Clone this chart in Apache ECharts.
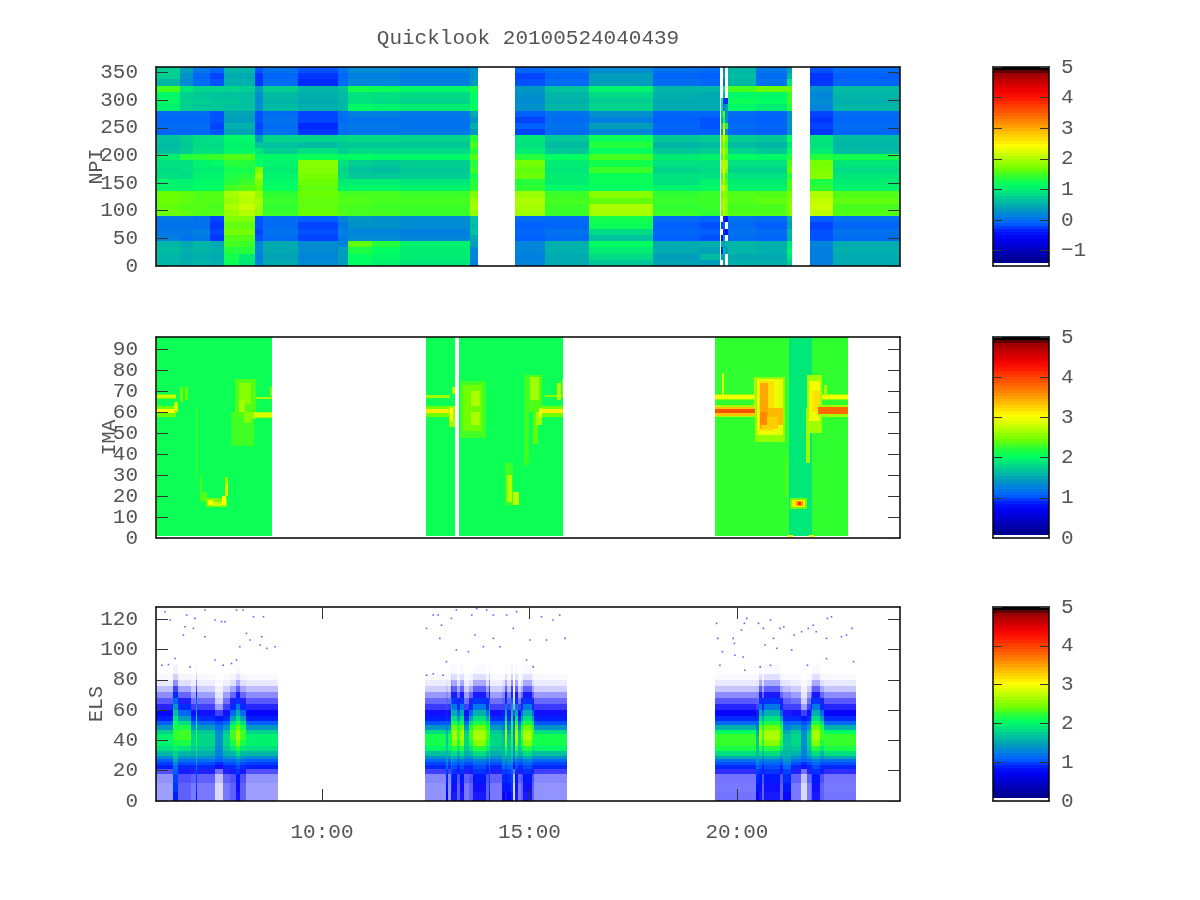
<!DOCTYPE html>
<html><head><meta charset="utf-8">
<style>html,body{margin:0;padding:0;background:#fff}#c{width:1200px;height:900px}</style>
<script src="https://cdn.jsdelivr.net/npm/echarts@6/dist/echarts.min.js"></script>
</head><body><div id="c"></div>
<script>
const title = 'Quicklook 20100524040439';
const timeTicks = [10, 15, 20];
const npiTicks = [0,50,100,150,200,250,300,350];
const imaTicks = [0,10,20,30,40,50,60,70,80,90];
const elsTicks = [0,20,40,60,80,100,120];
const barTicksNpi = [-1,0,1,2,3,4,5];
const barTicksOther = [0,1,2,3,4,5];
const palette = ['#000088','#0000a8','#0000cc','#0000ee','#0018ff','#0060ff','#0080e0','#00a0b8','#00c0a0','#00e080','#00ff60','#30ff30','#70ff00','#a0ff00','#d0ff00','#ffff00','#ffd800','#ffb000','#ff8800','#ff6000','#ff4000','#ff1800','#f00000','#c80000','#a00000','#000000'];

// NPI: each column lists 32 azimuth rows (11.25 wide), bottom row first; null = no data
const npiRowHeight = 11.25;
const npiSpans = [[6.0,6.58],[6.58,6.9],[6.9,7.3],[7.3,7.64],[7.64,8.0],[8.0,8.38],[8.38,8.58],[8.58,9.42],[9.42,10.39],[10.39,10.63],[10.63,11.2],[11.2,11.88],[11.88,13.57],[13.57,13.75],
 [14.64,15.37],[15.37,16.43],[16.43,17.98],[17.98,19.1],[19.1,19.6],[19.62,19.66],[19.66,19.72],[19.72,19.79],[19.79,20.47],[20.47,21.2],[21.2,21.32],[21.76,22.31],[22.31,23.93]];
const npiC0  = [.5,.5,.55,.5, .05,0,-.05,0, 1.6,1.55,1.6,1.6, 1,1, .85,.8,.85,.95, .6,.55,.6, -.15,-.1,-.15,-.1, 1,1.05,1.05,1.45, .5,.7,.7];
const npiC1  = [.45,.4,.45,.4, -.05,0,-.05,0, 1.55,1.5,1.55,1.55, 1,1, .8,.85,.85,1.3, .7,.65,.7, -.15,-.1,-.15,-.1, .7,.75,.7,.9, .15,.2,.3];
const npiC2  = [.5,.45,.5,.5, 0,.05,-.05,-.05, 1.5,1.5,1.5,1.5, 1.1,1.05, 1,.95,1,1.35, .85,.8,.8, -.15,-.1,-.15,-.1, .65,.7,.65,.75, -.1,-.15,0];
const npiC3  = [.45,.4,.45,.4, -.35,-.3,-.35,-.3, 1.5,1.45,1.5,1.5, 1.1,1.05, 1,.95,1.05,1.4, .85,.8,.85, -.25,-.3,-.25,-.25, .65,.65,.6,.75, -.25,-.3,-.15];
const npiC4  = [1.15,1.2,1.3,1.45, 1.5,1.65,1.55,1.7, 1.85,1.95,1.85,1.9, 1.45,1.3, 1.25,1.2,1.3,1.5, 1.05,1,1.05, .35,.45,.3,.35, .6,.65,.6,.75, .45,.4,.5];
const npiC5  = [.9,.95,1.3,1.4, 1.5,1.65,1.55,1.7, 2,2.1,2,2.05, 1.5,1.4, 1.3,1.2,1.3,1.5, 1.05,1,1.05, .35,.45,.3,.35, .6,.6,.6,.7, .45,.4,.5];
const npiC6  = [.1,.05,.1,.1, -.25,-.3,-.25,-.25, 1.8,1.85,1.9,1.8, 1.6,1.7, 1.9,1.7,1.1,1.05, .9,.6,.3, -.25,-.3,-.25,-.25, .2,.15,.2,.3, -.35,-.35,-.25];
const npiC7  = [.4,.35,.4,.4, -.1,-.05,-.1,-.1, 1.4,1.35,1.4,1.35, 1.1,1.05, 1,.95,1,1.05, .7,.6,.75, -.05,-.1,-.05,-.1, .55,.5,.55,.7, -.1,-.15,-.05];
const npiC8  = [.15,.1,.15,.15, -.3,-.25,-.3,-.2, 1.6,1.55,1.55,1.6, 1.55,1.6, 1.65,1.7,1.75,1.15, .85,.55,.75, -.35,-.4,-.3,-.3, .45,.4,.45,.5, -.4,-.35,-.25];
const npiC9  = [.3,.3,.3,.1, 0,.05,0,.1, 1.5,1.45,1.5,1.45, 1,.95, .8,.75,.85,1.05, .7,.65,.75, -.1,-.05,-.1,-.05, .5,.5,.55,.6, -.1,-.15,-.05];
const npiC10 = [1.1,1.1,1.25,1.55, .15,.1,.2,.25, 1.45,1.45,1.5,1.45, 1.05,.95, .65,.6,.7,1.1, .8,.65,.8, -.05,0,-.05,.05, 1.05,.85,.85,1.2, .1,.05,.15];
const npiC11 = [1,1.05,1.1,1.3, .15,.1,.2,.2, 1.45,1.4,1.45,1.45, 1.05,.95, .65,.55,.65,1.05, .8,.65,.8, -.05,0,-.05,.05, 1,.8,.85,1.15, .1,.05,.15];
const npiC12 = [.9,.95,.95,1, .1,.05,.15,.15, 1.4,1.4,1.45,1.4, 1,.9, .7,.65,.7,1.05, .8,.65,.75, 0,-.05,-.05,0, .95,.75,.8,1.05, .05,0,.1];
const npiC13 = [.05,.1,.1,.3, .4,.6,.55,.6, 1.8,1.9,1.85,1.7, 1.35,1.3, 1.2,1.4,1.3,1.5, 1.3,1.45,1.3, .25,.45,.2,.4, 1.1,1.05,1.1,1.2, .25,.2,.2];
const npiC14 = [.1,.05,.1,.1, -.2,-.15,-.2,-.1, 1.85,1.9,1.95,1.85, 1.35,1.3, 1.6,1.55,1.65,1.3, .95,.85,.9, -.3,-.2,-.3,-.2, .2,.15,.2,.25, -.25,-.3,-.15];
const npiC15 = [.4,.4,.45,.45, -.1,-.05,-.15,-.1, 1.4,1.4,1.45,1.4, 1.05,.95, .95,.9,.95,1.1, .65,.55,.65, -.1,-.05,-.1,-.05, .5,.45,.5,.6, -.1,-.15,-.05];
const npiC16 = [.65,.8,.95,1.1, .6,.8,1.15,1.2, 1.9,1.95,1.55,1.75, 1.1,1.15, 1.15,1.4,1.2,1.45, 1.1,1.3,1.15, .1,.3,.05,.2, .75,.7,.8,1.0, .3,.3,.15];
const npiC17 = [.35,.3,.4,.4, -.2,-.15,-.2,-.1, 1.4,1.35,1.4,1.35, 1,.85, .85,.75,.85,.95, .65,.5,.65, -.2,-.15,-.2,-.15, .4,.4,.45,.5, -.1,-.15,-.05];
const npiC18 = [.3,.55,.35,.45, -.25,-.2,-.25,-.15, 1.35,1.4,1.4,1.4, 1.05,1, .85,.8,.85,1, .7,.55,.7, -.2,-.25,-.25,-.15, .4,.4,.4,.5, -.15,-.2,-.1];
const npiC19 = [null,.3,-.4,.4, -.5,null,-.3,null, 1.6,1.8,1.7,1.6, 1.9,1.6, 1.4,1.7,1.9,1.4, 1.7,1.5,1.6, .3,.9,.4,.7, .9,1,null,null, null,null,null];
const npiC20 = [.3,.4,.5,.3, .2,-.4,-.2,-.4, 2.0,1.9,1.95,1.8, 2.1,1.9, 2.2,2.3,1.9,2, 2,1.9,2.1, 2.5,2.8,1.2,1.5, -.1,-.4,.5,.9, -.1,.3,.2];
const npiC21 = [null,null,.3,.5, null,-.6,null,-.6, 1.7,1.7,1.75,1.7, 1.7,1.5, 1.3,1.7,1.9,1.5, 1.6,1.4,1.6, .2,1.2,.2,.2, .3,-.4,null,null, null,null,null];
const npiC22 = [.45,.4,.5,.5, -.1,-.05,-.1,-.05, 1.5,1.45,1.5,1.5, 1,.95, .85,.75,.85,1.1, .75,.55,.7, -.15,-.1,-.15,-.1, 1.05,1.15,1.05,1.45, .5,.55,.5];
const npiC23 = [.45,.4,.45,.45, -.15,-.1,-.2,-.1, 1.5,1.45,1.55,1.5, 1,.95, .85,.75,.85,1.05, .65,.5,.65, -.2,-.15,-.2,-.15, .95,1.1,1.05,1.6, -.05,-.1,0];
const npiC24 = [.7,.9,1.0,.9, .4,.5,.3,.4, 1.7,1.75,1.7,1.65, 1.5,1.5, 1.3,1.6,1.5,1.3, 1.1,.9,1.1, .2,.2,.2,.2, 1.3,1.4,1.4,1.6, .9,.5,.3];
const npiC25 = [.05,.05,.05,.1, -.25,-.25,-.3,-.2, 2.05,2.1,2.05,1.95, 1.35,1.25, 1.75,1.7,1.65,1.3, .95,.85,.9, -.35,-.3,-.35,-.3, .1,.15,.1,.2, -.35,-.35,-.25];
const npiC26 = [.4,.4,.45,.4, -.1,-.05,-.15,-.05, 1.5,1.45,1.55,1.5, 1,.95, .9,.8,.9,1.2, .55,.5,.55, -.15,-.1,-.15,-.1, .5,.45,.5,.55, -.15,-.2,-.1];
const npiColumns = [npiC0,npiC1,npiC2,npiC3,npiC4,npiC5,npiC6,npiC7,npiC8,npiC9,npiC10,npiC11,npiC12,npiC13,npiC14,npiC15,npiC16,npiC17,npiC18,npiC19,npiC20,npiC21,npiC22,npiC23,npiC24,npiC25,npiC26];

// IMA: data windows with their background level, then features [tStart,tEnd,yStart,yEnd,value]
const imaWindows = [[6.0,8.8,1,96,2.05],[12.5,13.2,1,96,2.05],[13.31,15.8,1,96,2.05],[19.48,22.68,1,96,2.2],[21.25,21.81,1,96,1.85]];
const imaFeatures = [
 [6.0,6.47,58,63,2.4],[6.0,6.45,59.5,61.5,3.0],[6.44,6.52,60,65,2.7],[6.46,6.5,61,63,3.0],[6.0,6.48,66.5,69,2.4],[6.0,6.48,67,68.5,2.75],[6.58,6.64,65,72,2.4],[6.7,6.78,66,72,2.4],[6.96,7.0,30,62,2.3],[7.05,7.12,17,30,2.3],[7.12,7.22,17,22,2.3],
 [7.2,7.7,15,19,2.45],[7.25,7.38,16,18,3.0],[7.38,7.6,15.5,17,2.75],[7.6,7.68,16,20,3.0],[7.66,7.74,20,29,2.6],[7.69,7.73,20,26,3.2],
 [7.8,8.35,44,60,2.25],[7.9,8.4,58,76,2.3],[8.0,8.3,64,74,2.5],[8.0,8.15,60,66,2.6],[8.12,8.28,55,60,2.5],[8.24,8.4,57,60,2.5],[8.35,8.8,57.5,60,2.6],[8.35,8.8,58,59.5,2.85],[8.4,8.8,66.5,67.5,2.6],[8.75,8.8,68,72,2.5],
 [12.5,13.08,58,63,2.4],[12.5,13.08,59.5,61.5,3.1],[12.5,13.08,67,68.5,2.6],[13.06,13.2,53,63,2.6],[13.08,13.16,56,62,3.0],[13.14,13.2,69,72,2.7],
 [13.33,13.95,48,75,2.25],[13.4,13.85,51,73,2.4],[13.6,13.8,63,70,2.65],[13.6,13.8,54,60,2.65],[14.42,14.6,16,36,2.25],[14.46,14.57,17,30,2.7],[14.6,14.76,16,22,2.7],[14.88,15.0,35,78,2.25],[14.98,15.3,60,78,2.3],[15.02,15.22,66,77,2.6],[15.08,15.2,45,60,2.35],[15.16,15.3,54,60,2.6],[15.22,15.34,58,62,2.9],[15.3,15.8,58,63,2.4],[15.3,15.8,59.5,61.5,3.1],[15.34,15.8,67.5,68.5,2.5],[15.67,15.75,66,74,2.7],[15.78,15.8,68,76,2.5],
 [19.48,20.48,58,63.5,2.6],[19.48,20.48,58.5,59.5,3.3],[19.48,20.48,59.5,61.5,3.9],[19.48,20.48,61.5,62.5,3.3],[19.48,20.4,66,69,2.5],[19.48,20.4,66.5,68.5,2.95],[19.64,19.69,68,79,2.9],
 [20.4,20.52,62,77,2.8],[20.44,21.16,46,77,2.55],[20.48,21.1,49,76,2.9],[20.52,20.9,51,75,3.15],[20.56,20.75,52,74,3.45],[20.75,21.1,54,62,3.35],[20.6,21.0,52,58,3.25],[20.55,20.72,54,60,3.6],[21.16,21.24,20,38,2.3],
 [21.28,21.7,14,19,2.4],[21.32,21.65,15,18,3.1],[21.42,21.6,15.5,17.5,3.5],[21.47,21.55,16,17,4.1],[21.66,21.76,36,62,2.6],[21.7,22.04,50,78,2.6],[21.74,22.0,56,75,2.95],[21.8,22.0,60,70,3.15],[21.96,22.68,58,63.5,2.6],[21.96,22.68,59,62.5,3.75],[22.05,22.68,66,69,2.5],[22.05,22.68,66.5,68.5,2.95],[22.1,22.18,68,73,2.7],[21.24,21.36,.5,1.5,3],[21.74,21.86,.5,1.5,3]
];

// ELS: energy-band edges, vertical profiles, and which profile applies from which hour
const elsEdges = [0,6,12,18,21,24,26,28,30,33,36,40,44,47,50,53,56,60,64,68,72,76,80,84,90];
const calm1 = [.3,.3,.34,.55,.82,.9,1,1.25,1.55,1.8,1.92,1.92,1.72,1.35,1,.82,.78,.68,.52,.36,.2,.07,.02,0];
const calm2 = [.34,.34,.38,.6,.85,.92,1.05,1.3,1.62,1.95,2.08,2.08,1.78,1.32,.96,.82,.75,.62,.47,.32,.15,.06,.02,0];
const calm3 = [.44,.42,.44,.66,.85,.95,1.1,1.45,1.8,2.1,2.22,2.22,2.0,1.5,1.05,.85,.78,.68,.52,.36,.18,.07,.02,0];
const active = [.5,.5,.55,.72,.85,.95,1.1,1.3,1.55,1.85,2.1,2.25,2.25,2.1,1.8,1.4,1.05,.85,.7,.48,.28,.1,.03,0];
const peak = [.72,.75,.8,.88,.95,1.05,1.2,1.5,1.8,2.15,2.5,2.65,2.6,2.4,2.1,1.8,1.5,1.15,.88,.72,.5,.27,.1,.02];
const streak = [.82,.88,.92,1,1.1,1.25,1.45,1.6,1.75,1.9,2.1,2.2,2.2,2.1,2,1.85,1.6,1.35,1.05,.85,.6,.35,.15,.04];
const mid = [.42,.42,.5,.7,.85,.95,1.1,1.3,1.5,1.65,1.75,1.75,1.65,1.35,1.05,.85,.75,.6,.45,.3,.15,.05,.02,0];
const thin = [.12,.12,.2,.45,.75,.85,1,1.1,1.2,1.25,1.3,1.3,1.25,1.1,.95,.8,.6,.3,.15,.08,.04,.02,0,0];
const dark = [.78,.8,.85,.92,1.05,1.2,1.35,1.45,1.55,1.6,1.65,1.6,1.45,1.2,1,.85,.72,.6,.5,.38,.2,.08,.02,0];
const elsTimeline = [
 [6.0,calm1],[6.42,streak],[6.52,active],[6.72,active],[6.85,mid],[6.96,streak],[6.99,mid],[7.43,thin],[7.62,mid],[7.78,active],[7.92,peak],[8.02,active],[8.18,calm1],[8.93,null],
 [12.49,calm2],[13.0,dark],[13.03,calm2],[13.1,streak],[13.14,peak],[13.26,active],[13.32,peak],[13.42,mid],[13.55,active],[13.65,peak],[13.95,active],[14.02,streak],[14.05,mid],[14.35,dark],[14.4,peak],[14.47,dark],[14.55,streak],[14.6,thin],[14.66,peak],[14.72,mid],[14.8,active],[14.85,peak],[15.05,active],[15.12,calm2],[15.9,null],
 [19.48,calm3],[20.47,dark],[20.52,peak],[20.6,active],[20.66,peak],[21.05,active],[21.12,dark],[21.3,mid],[21.55,thin],[21.7,mid],[21.78,active],[21.82,peak],[22.0,active],[22.1,calm3],[22.88,null]
];
const elsDotTimes = [6.22,6.34,6.74,6.94,7.18,7.42,7.58,7.66,8.1,8.35,8.59,7.94,6.7,6.9,6.66,6.46,6.3,7.18,6.14,7.82,8.02,8.18,8.27,8.51,8.67,8.87,7.42,6.82,7.62,7.94,8.55,
 12.68,12.8,12.52,12.88,13.12,13.24,13.61,13.73,13.97,14.13,14.45,14.69,15.29,15.57,15.73,15.86,15.09,13.89,14.29,15.01,13.69,13.24,12.84,12.52,13,13.53,15.41,14.61,14.13,12.68,14.93,12.92,
 19.51,19.54,19.59,19.65,19.91,19.94,20.11,20.18,20.24,20.52,20.64,20.68,20.81,20.88,20.96,21.04,21.13,21.32,21.38,21.56,21.7,21.84,21.91,22.16,22.18,22.28,22.52,22.64,22.77,22.81,22.16,21.72,20.81,20.56,20.19,20.15,19.95];
const elsDotLevels = [124.9,119.4,122.7,120.5,126,119.4,118.3,118.3,126,121.6,121.6,126,115,113.9,109.5,94,90,108.4,89.6,90.7,101.8,110.6,106.2,102.9,100.7,101.8,93,88.5,89.6,93,108.4,
 122.7,122.7,113.9,116,120.5,126,122.7,127,126,122.7,122.7,124.9,121.6,119.4,122.7,107.3,88.5,101.8,101.8,106.2,109.5,99.6,107.3,83,91.9,98.5,106.2,113.9,107.3,84,93,83,
 117.2,107.3,89.6,98.5,107.3,104,112.8,117.2,120.5,117.2,113.9,102.9,119.4,107.3,100.7,113.9,115,99.6,109.5,111.7,89.6,116,111.7,107.3,120.5,121.6,108.4,109.5,113.9,91.9,93.9,113.9,89.6,88.5,86.3,95,96.2];

const BOX_L=156, BOX_W=744, BAR_L=993, BAR_W=56;
const tMin=6, tMax=23.93, mono='"Liberation Mono", monospace', ink='#555';

const npiCells=[];
npiColumns.forEach((col,i)=>col.forEach((v,r)=>{ if(v!==null) npiCells.push([npiSpans[i][0],npiSpans[i][1],r*npiRowHeight,(r+1)*npiRowHeight,v]); }));
const imaCells=imaWindows.concat(imaFeatures);
const elsCells=[];
elsTimeline.forEach((e,i)=>{ if(!e[1]) return; const end=elsTimeline[i+1][0];
  e[1].forEach((v,b)=>{ if(v>0) elsCells.push([e[0],end,elsEdges[b],elsEdges[b+1],v]); }); });
const elsDots=elsDotTimes.map((t,i)=>[t,elsDotLevels[i]]);
function barCells(lo,hi){ const out=[], n=64, base=lo+(hi-lo)*0.015;
  for(let k=0;k<n;k++){ const a=base+(hi-base)*k/n, b=base+(hi-base)*(k+1)/n; out.push([0,1,a,b,k===n-1?hi:lo+(hi-lo)*(k+.5)/n]); }
  return out; }

function rect(params,api){
  const a=api.coord([api.value(0),api.value(2)]), b=api.coord([api.value(1),api.value(3)]);
  const x=Math.round(a[0]), x2=Math.max(Math.round(b[0]),x+1), y2=Math.round(a[1]), y=Math.min(Math.round(b[1]),y2-1);
  return {type:'rect',shape:{x,y,width:x2-x,height:y2-y},style:{fill:api.visual('color')}};
}
function rectSpeckle(params,api){
  const v=api.value(4), el=rect(params,api);
  if(v<.8){ el.style.fill='#0000ff'; el.style.opacity=v/.8; }
  return el;
}
const grids=[], xAxes=[], yAxes=[], series=[];
function labelFmt(v){ return String(v).replace('-','\u2212'); }
function addFrame(top,h,left,w,ymin,ymax,ticks,xmin,xmax,opt){
  const gi=grids.length;
  grids.push({left,top,width:w,height:h});
  const line={show:true,onZero:false,lineStyle:{color:'#000',width:1.5}};
  const tl=opt.tickLen;
  xAxes.push({gridIndex:gi,type:'value',min:xmin,max:xmax,position:'bottom',z:5,axisLine:line,splitLine:{show:false},
    axisTick:opt.time?{show:true,inside:true,length:12,lineStyle:{color:'#333'},customValues:timeTicks}:{show:false},
    axisLabel:opt.time?{show:true,customValues:timeTicks,margin:21,color:ink,fontFamily:mono,fontSize:21,formatter:v=>v+':00'}:{show:false}});
  xAxes.push({gridIndex:gi,type:'value',min:xmin,max:xmax,position:'top',z:5,axisLine:line,splitLine:{show:false},
    axisTick:opt.time?{show:true,inside:true,length:12,lineStyle:{color:'#333'},customValues:timeTicks}:{show:false},axisLabel:{show:false}});
  yAxes.push({gridIndex:gi,type:'value',min:ymin,max:ymax,position:opt.bar?'right':'left',z:5,axisLine:line,splitLine:{show:false},
    name:opt.name||'',nameLocation:'middle',nameGap:opt.nameGap,nameMoveOverlap:false,nameTextStyle:{color:ink,fontFamily:mono,fontSize:20},
    axisTick:{show:true,inside:true,length:tl,lineStyle:{color:'#333'},customValues:ticks},
    axisLabel:{show:true,customValues:ticks,margin:opt.bar?12:18,color:ink,fontFamily:mono,fontSize:21,formatter:labelFmt}});
  yAxes.push({gridIndex:gi,type:'value',min:ymin,max:ymax,position:opt.bar?'left':'right',z:5,axisLine:line,splitLine:{show:false},
    axisTick:{show:true,inside:true,length:tl,lineStyle:{color:'#333'},customValues:ticks},axisLabel:{show:false}});
  return {x:gi*2,y:gi*2};
}
function addCells(ax,name,cells,item){
  series.push({name,type:'custom',xAxisIndex:ax.x,yAxisIndex:ax.y,clip:true,z:2,renderItem:item||rect,
    encode:{x:[0,1],y:[2,3]},dimensions:['t0','t1','y0','y1','v'],silent:true,animation:false,data:cells});
  return series.length-1;
}
const a1=addFrame(67,199,BOX_L,BOX_W,0,360,npiTicks,tMin,tMax,{tickLen:12,name:'NPI',nameGap:49});
const s1=addCells(a1,'NPI',npiCells);
const b1=addFrame(67,199,BAR_L,BAR_W,-1.5,5,barTicksNpi,0,1,{tickLen:9,bar:true});
const sb1=addCells(b1,'NPI scale',barCells(-1.5,5));
const a2=addFrame(337,201,BOX_L,BOX_W,0,96,imaTicks,tMin,tMax,{tickLen:12,name:'IMA',nameGap:36});
const s2=addCells(a2,'IMA',imaCells);
const b2=addFrame(337,201,BAR_L,BAR_W,0,5,barTicksOther,0,1,{tickLen:9,bar:true});
const sb2=addCells(b2,'IMA scale',barCells(0,5));
const a3=addFrame(607,194,BOX_L,BOX_W,0,128,elsTicks,tMin,tMax,{tickLen:12,name:'ELS',nameGap:49,time:true});
const s3=addCells(a3,'ELS',elsCells,rectSpeckle);
series.push({name:'ELS strays',type:'scatter',xAxisIndex:a3.x,yAxisIndex:a3.y,symbol:'rect',symbolSize:[1.6,1.6],itemStyle:{color:'#3a3aff',opacity:.8},silent:true,animation:false,data:elsDots,z:3});
const b3=addFrame(607,194,BAR_L,BAR_W,0,5,barTicksOther,0,1,{tickLen:9,bar:true});
const sb3=addCells(b3,'ELS scale',barCells(0,5));

const chart=echarts.init(document.getElementById('c'),null,{renderer:'canvas'});
chart.setOption({
  animation:false,backgroundColor:'#fff',
  title:{text:title,left:523,top:23,textAlign:'center',textStyle:{color:ink,fontFamily:mono,fontSize:21,fontWeight:'normal'}},
  grid:grids,xAxis:xAxes,yAxis:yAxes,series,
  visualMap:[
    {show:false,type:'continuous',min:-1.5,max:5,dimension:4,seriesIndex:[s1,sb1],inRange:{color:palette}},
    {show:false,type:'continuous',min:0,max:5,dimension:4,seriesIndex:[s2,sb2,s3,sb3],inRange:{color:palette}}
  ]
});
</script></body></html>
